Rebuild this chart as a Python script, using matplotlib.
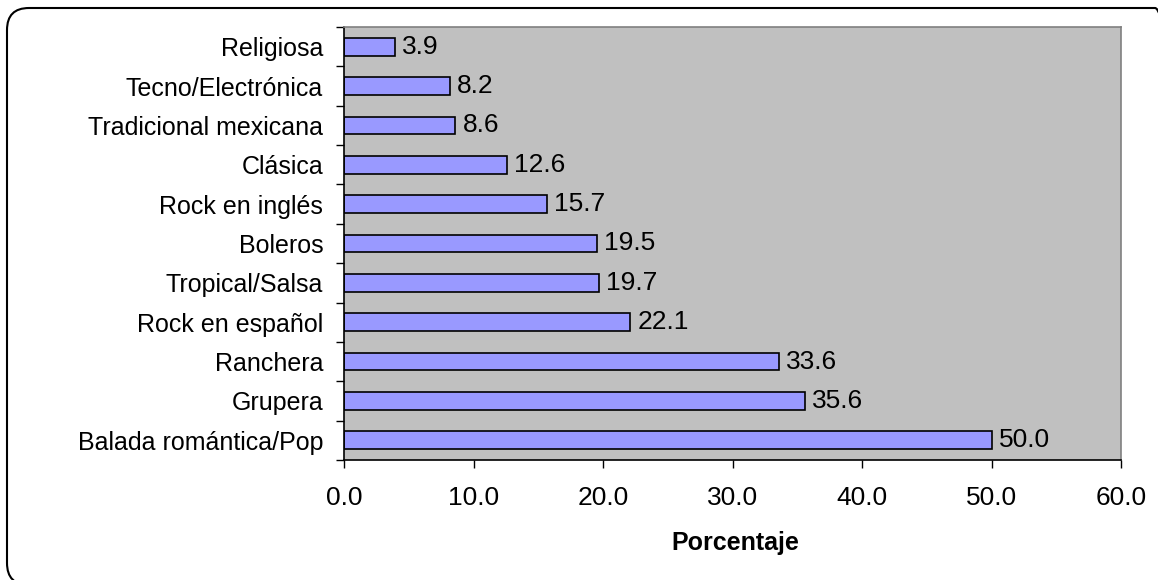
import numpy as np
import matplotlib.pyplot as plt
from matplotlib.patches import FancyBboxPatch

plt.rcParams['font.family'] = ['Liberation Sans', 'DejaVu Sans']

# data (bottom to top)
generos = ['Balada romántica/Pop', 'Grupera', 'Ranchera', 'Rock en español',
           'Tropical/Salsa', 'Boleros', 'Rock en inglés', 'Clásica',
           'Tradicional mexicana', 'Tecno/Electrónica', 'Religiosa']
porcentaje = [50.0, 35.6, 33.6, 22.1, 19.7, 19.5, 15.7, 12.6, 8.6, 8.2, 3.9]
xticks = [0, 10, 20, 30, 40, 50, 60]

FS = 19
W, H = 1158, 580
fig = plt.figure(figsize=(W / 100, H / 100), dpi=100)
ax = fig.add_axes([344 / W, 1 - 460 / H, (1121 - 344) / W, (460 - 27) / H])

y = np.arange(len(generos))
ax.barh(y, porcentaje, height=0.45, color='#9999FF', edgecolor='black', linewidth=1.2)
for yi, v in zip(y, porcentaje):
    ax.text(v + 0.55, yi, f'{v:.1f}', va='center', ha='left', fontsize=FS)

ax.set_facecolor('#C0C0C0')
ax.set_xlim(0, 60)
ax.set_ylim(-0.5, len(generos) - 0.5)
ax.set_xticks(xticks)
ax.set_xticklabels([f'{t:.1f}' for t in xticks], fontsize=FS)
ax.set_yticks(y)
ax.set_yticklabels(generos, fontsize=18)
ax.set_yticks(np.arange(len(generos) + 1) - 0.5, minor=True)
ax.tick_params(axis='y', which='major', length=0, pad=15)
ax.tick_params(axis='y', which='minor', length=6, width=1, direction='out')
ax.tick_params(axis='x', length=6, width=1, direction='out', pad=13)

for s in ['top', 'right']:
    ax.spines[s].set_color('#808080')
    ax.spines[s].set_linewidth(1.2)
for s in ['left', 'bottom']:
    ax.spines[s].set_color('black')
    ax.spines[s].set_linewidth(1.2)

ax.set_xlabel('Porcentaje', fontsize=18, fontweight='bold')
ax.xaxis.set_label_coords(0.503, -0.163)

# outer rounded frame, in inches (right edge falls outside the image)
box = FancyBboxPatch((0.07, -0.05), 11.70, 5.77,
                     boxstyle='round,pad=0,rounding_size=0.22',
                     transform=fig.dpi_scale_trans, fill=False,
                     edgecolor='black', linewidth=1.5, clip_on=False)
fig.patches.append(box)

fig.savefig('out.png', dpi=100)
